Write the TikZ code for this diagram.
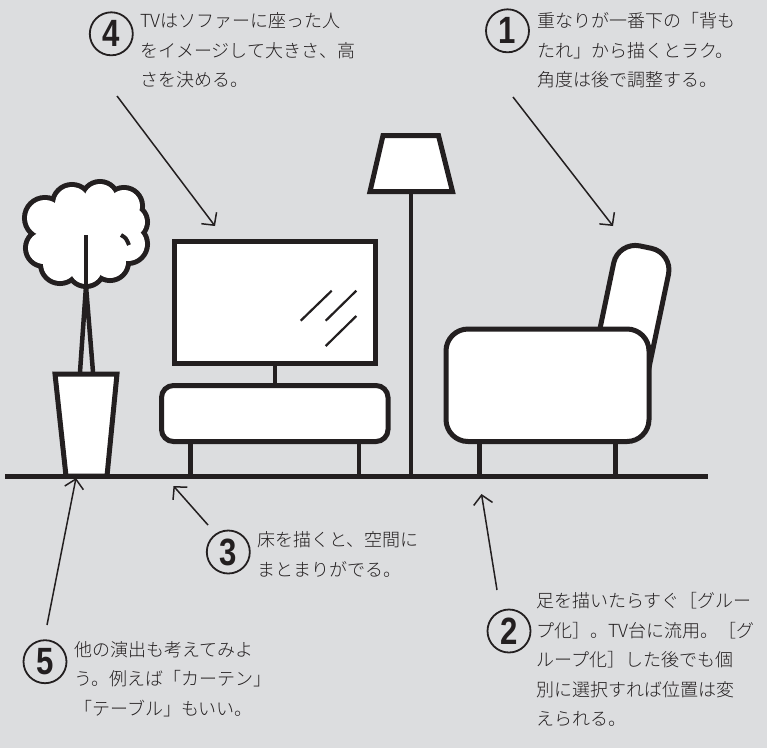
\documentclass[tikz,border=0pt]{standalone}
\usepackage{fontspec}
\usetikzlibrary{arrows.meta}
\newfontfamily\jpfont{Noto Sans CJK JP Light}
\newfontfamily\numfont{Liberation Sans}
\XeTeXlinebreaklocale "ja"
\XeTeXlinebreakskip=0pt plus 4pt
\definecolor{fond}{RGB}{220,221,223}
\definecolor{encre}{RGB}{35,31,32}

% justified line, circled number
\newcommand{\jline}[2]{\makebox[#1][s]{#2}}
\newcommand{\stepno}[1]{\scalebox{0.82}[1]{#1}}

\begin{document}
\begin{tikzpicture}[x=1pt, y=-1pt]
	\tikzstyle{obj}=[draw=encre, line width=5pt, fill=white]
	\tikzstyle{leg}=[draw=encre, line width=4.5pt]
	\tikzstyle{lead}=[draw=encre, line width=1.5pt, -{Straight Barb[length=9pt,width=19pt]}]
	\tikzstyle{num}=[circle, draw=encre, line width=1.8pt, minimum size=43pt, inner sep=0pt, text=encre, font=\numfont\bfseries\fontsize{38}{38}\selectfont]
	\tikzstyle{note}=[anchor=base west, inner sep=0pt, text=encre, font=\jpfont\fontsize{18}{29.5}\selectfont]

	\fill[fond] (0,0) rectangle (767,748);

	% PLANTE
	\def\puffs{72/204/17, 100/200/16, 124/206/16, 45/218/18, 44/248/16, 60/264/17, 86/268/16, 110/262/16, 128/244/17, 130/222/15, 86/236/30}
	\foreach \cx/\cy/\r in \puffs
		\draw[encre, line width=10pt] (\cx,\cy) circle (\r);
	\foreach \cx/\cy/\r in \puffs
		\fill[white] (\cx,\cy) circle (\r);
	\fill[white] (86,234) circle (40);
	\draw[encre, line width=4pt] (121,235) .. controls (126,238) .. (129,245);
	\draw[leg] (80,372) -- (86,286) -- (93,372);
	\draw[leg] (86,235) -- (86,290);
	\draw[obj] (55,374) -- (117,374) -- (107,476) -- (66,476) -- cycle;

	% TV
	\draw[obj] (174,241.5) rectangle (375.5,363);
	\draw[leg] (275,363) -- (275,385.5);
	\draw[encre, line width=2.2pt] (300.7,320.7) -- (331.7,290.7)
		(325.7,320.7) -- (356.3,290.7)
		(325.7,346) -- (356.3,316);
	\draw[leg] (190.7,441.5) -- (190.7,476);
	\draw[leg] (359,441.5) -- (359,476);
	\draw[obj, rounded corners=12pt] (161.5,385.5) rectangle (388,441.5);

	% LAMPE
	\draw[leg] (411,191.5) -- (411,476);
	\draw[obj] (383,135.5) -- (438.5,135.5) -- (452.5,191.5) -- (370,191.5) -- cycle;

	% FAUTEUIL
	\draw[obj, rounded corners=22pt] (618.2,241.4) -- (673,252.8) -- (642.3,399.7) -- (587.5,388.3) -- cycle;
	\draw[leg] (479.3,441.5) -- (479.3,476);
	\draw[leg] (615.3,441.5) -- (615.3,476);
	\draw[obj, rounded corners=22pt] (446,329) rectangle (649,441.5);

	% SOL
	\draw[encre, line width=5pt] (5,476) -- (708,476);

	% NOTES
	\node[num] (n1) at (507.5,30.8) {\stepno{1}};
	\node[note] (t1) at (537,27.5) {\begin{tabular}[t]{@{}l@{}}
		\jline{220pt}{重なりが一番下の「背も}\\
		たれ」から描くとラク。\\
		角度は後で調整する。
	\end{tabular}};

	\node[num] (n2) at (509,631) {\stepno{2}};
	\node[note] (t2) at (536,607.5) {\begin{tabular}[t]{@{}l@{}}
		\jline{225pt}{足を描いたらすぐ［グルー}\\
		\jline{225pt}{プ化］。TV台に流用。［グ}\\
		\jline{225pt}{ループ化］した後でも個}\\
		\jline{225pt}{別に選択すれば位置は変}\\
		えられる。
	\end{tabular}};

	\node[num] (n3) at (228.3,552) {\stepno{3}};
	\node[note] (t3) at (257,546.8) {\begin{tabular}[t]{@{}l@{}}
		床を描くと、空間に\\
		まとまりがでる。
	\end{tabular}};

	\node[num] (n4) at (111.3,33.8) {\stepno{4}};
	\node[note] (t4) at (140,27.5) {\begin{tabular}[t]{@{}l@{}}
		\jline{225pt}{TVはソファーに座った人}\\
		\jline{225pt}{をイメージして大きさ、高}\\
		さを決める。
	\end{tabular}};

	\node[num] (n5) at (45,661.7) {\stepno{5}};
	\node[note] (t5) at (74,656) {\begin{tabular}[t]{@{}l@{}}
		\jline{222pt}{他の演出も考えてみよ}\\
		\jline{222pt}{う。例えば「カーテン」}\\
		「テーブル」もいい。
	\end{tabular}};

	% FLECHES
	\coordinate (a1) at (513,97);   \coordinate (b1) at (613,226);
	\coordinate (a2) at (497,590);  \coordinate (b2) at (481.5,494);
	\coordinate (a3) at (208,525);  \coordinate (b3) at (173.5,486);
	\coordinate (a4) at (117,96);   \coordinate (b4) at (215,226);
	\coordinate (a5) at (47,625);   \coordinate (b5) at (76,478);
	\foreach \i in {1,...,5}
		\draw[lead] (a\i) -- (b\i);
\end{tikzpicture}
\end{document}
